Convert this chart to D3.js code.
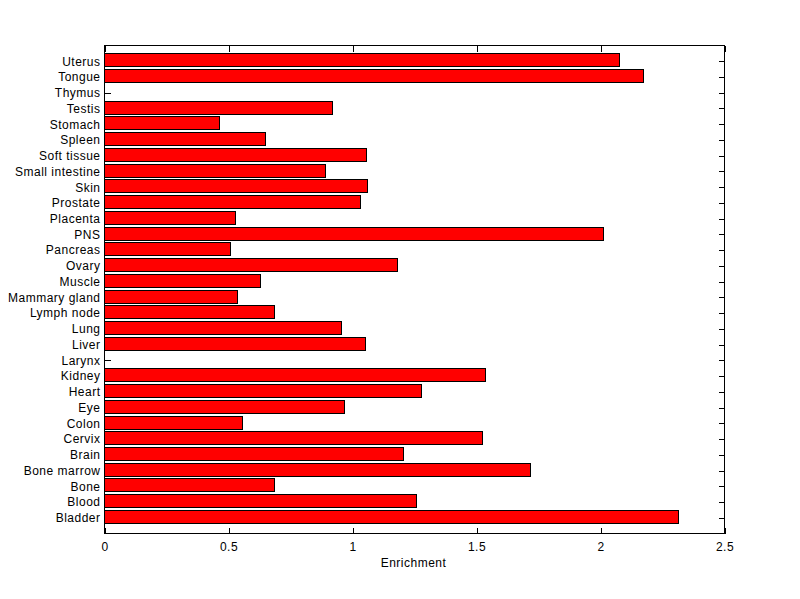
<!DOCTYPE html>
<html>
<head>
<meta charset="utf-8">
<script src="https://cdn.jsdelivr.net/npm/d3@7"></script>
<style>
  html, body { margin: 0; padding: 0; background: #fff; }
  svg { display: block; }
  text { font-family: "Liberation Sans", Arial, sans-serif; font-size: 12px; fill: #000; letter-spacing: 0.5px; }
</style>
</head>
<body>
<script>
// Categories listed bottom to top
const categories = ["Bladder","Blood","Bone","Bone marrow","Brain","Cervix","Colon","Eye","Heart","Kidney",
  "Larynx","Liver","Lung","Lymph node","Mammary gland","Muscle","Ovary","Pancreas","PNS","Placenta",
  "Prostate","Skin","Small intestine","Soft tissue","Spleen","Stomach","Testis","Thymus","Tongue","Uterus"];
const enrichment = [2.315,1.258,0.685,1.718,1.206,1.524,0.556,0.968,1.280,1.538,
  0,1.052,0.956,0.685,0.536,0.629,1.181,0.508,2.012,0.528,
  1.032,1.060,0.891,1.056,0.649,0.464,0.919,0,2.173,2.077];
const xTicks = [0,0.5,1,1.5,2,2.5];
const xTickLabels = ["0","0.5","1","1.5","2","2.5"];
const xLabel = "Enrichment";

const W = 800, H = 599;
const mLeft = 104.5, mRight = 724.5, mTop = 45.5, mBottom = 533.5;

const svg = d3.select("body").append("svg").attr("width", W).attr("height", H);

const x = d3.scaleLinear().domain([0, 2.5]).range([mLeft, mRight]);
const y = d3.scaleLinear().domain([0, categories.length + 1]).range([mBottom, mTop]);
const idx = d3.range(1, categories.length + 1);
const step = Math.abs(y(1) - y(0));
const barH = 0.8 * step;

// Axes (ticks inward)
const tick = 6;
const gB = svg.append("g").attr("transform", `translate(0,${mBottom})`)
  .call(d3.axisBottom(x).tickValues(xTicks).tickFormat((d, i) => xTickLabels[i]).tickSize(-tick).tickPadding(9));
const gT = svg.append("g").attr("transform", `translate(0,${mTop})`)
  .call(d3.axisTop(x).tickValues(xTicks).tickFormat("").tickSize(-tick));
const gL = svg.append("g").attr("transform", `translate(${mLeft},0)`)
  .call(d3.axisLeft(y).tickValues(idx).tickFormat(d => categories[d - 1]).tickSize(-tick).tickPadding(4));
const gR = svg.append("g").attr("transform", `translate(${mRight},0)`)
  .call(d3.axisRight(y).tickValues(idx).tickFormat("").tickSize(-tick));

[gB, gT, gL, gR].forEach(g => {
  g.select(".domain").remove();
  g.selectAll("line").attr("stroke", "#000").attr("shape-rendering", "crispEdges");
  g.selectAll("text").attr("font-family", null).attr("font-size", null).style("fill", "#000");
});

// Bars
svg.append("g").selectAll("rect")
  .data(enrichment.map((v, i) => ({ v, i: i + 1 })).filter(d => d.v > 0))
  .join("rect")
  .attr("x", x(0))
  .attr("y", d => Math.floor(y(d.i) - barH / 2) - 0.5)
  .attr("width", d => Math.round(x(d.v) - x(0)))
  .attr("height", Math.round(barH))
  .attr("fill", "#ff0000")
  .attr("stroke", "#000")
  .attr("stroke-width", 1)
  .attr("shape-rendering", "crispEdges");

// Box
svg.append("rect")
  .attr("x", mLeft).attr("y", mTop)
  .attr("width", mRight - mLeft).attr("height", mBottom - mTop)
  .attr("fill", "none").attr("stroke", "#000").attr("shape-rendering", "crispEdges");

// X label
svg.append("text")
  .attr("x", (mLeft + mRight) / 2 - 1)
  .attr("y", 567)
  .attr("text-anchor", "middle")
  .text(xLabel);
</script>
</body>
</html>
